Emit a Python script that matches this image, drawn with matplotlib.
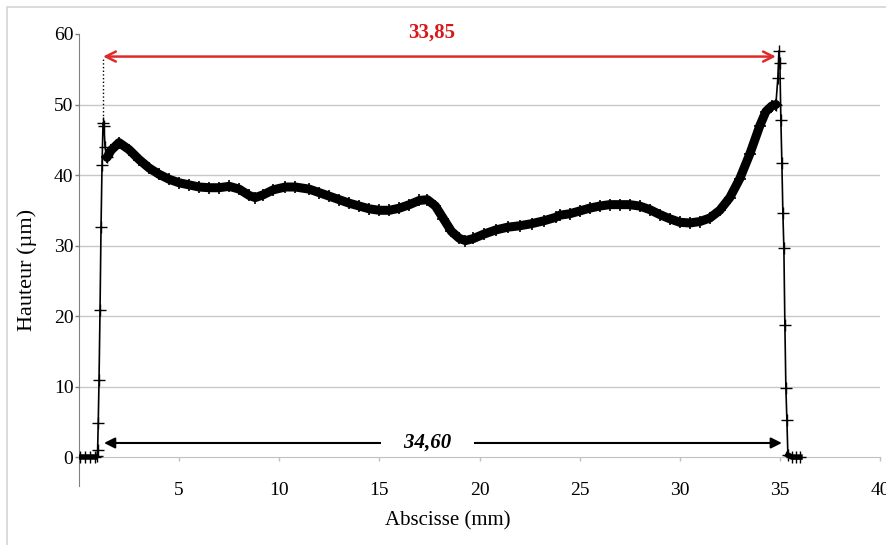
import matplotlib
matplotlib.use("Agg")
from matplotlib import pyplot as plt
from matplotlib.patches import Rectangle

plt.rcParams['font.family'] = ['Liberation Serif', 'DejaVu Serif']

# profile (abscisse mm, hauteur um)
x_left = [0.05, 0.3, 0.55, 0.8, 0.9, 0.93, 0.96, 1.0, 1.05, 1.1, 1.15, 1.2, 1.25, 1.3, 1.4]
y_left = [0.0, 0.0, 0.0, 0.0, 0.2, 1.0, 4.8, 10.9, 20.8, 32.6, 41.4, 47.4, 47.0, 44.0, 42.5]

x_prof = [1.4, 1.6, 2.0, 2.5, 3.0, 3.5, 4.0, 4.5, 5.0, 5.5, 6.0, 6.5, 7.0, 7.5, 8.0,
          8.5, 8.8, 9.2, 9.7, 10.3, 10.8, 11.5, 12.0, 12.5, 13.0, 13.5, 14.0, 14.5,
          15.0, 15.5, 16.0, 16.5, 17.0, 17.4, 17.8, 18.2, 18.6, 19.0, 19.3, 19.7,
          20.2, 20.8, 21.4, 22.0, 22.6, 23.2, 23.8, 24.0, 24.5, 25.0, 25.5, 26.0,
          26.5, 27.0, 27.5, 28.0, 28.5, 29.0, 29.5, 30.0, 30.5, 31.0, 31.5, 32.0,
          32.5, 33.0, 33.5, 34.0, 34.3, 34.6, 34.8]
y_prof = [42.5, 43.5, 44.6, 43.6, 42.2, 41.0, 40.1, 39.4, 38.9, 38.6, 38.3, 38.2, 38.2, 38.4, 38.0,
          37.1, 36.8, 37.2, 37.9, 38.3, 38.3, 38.0, 37.5, 37.0, 36.5, 36.0, 35.6, 35.2,
          35.0, 35.0, 35.3, 35.8, 36.4, 36.5, 35.6, 33.8, 32.0, 31.0, 30.7, 31.0,
          31.6, 32.2, 32.6, 32.8, 33.1, 33.5, 34.0, 34.3, 34.5, 34.9, 35.3, 35.6,
          35.8, 35.8, 35.8, 35.6, 35.1, 34.4, 33.8, 33.3, 33.2, 33.4, 33.9, 35.0,
          36.8, 39.5, 43.0, 47.0, 49.0, 49.8, 50.0]

x_right = [34.8, 34.9, 34.95, 35.0, 35.05, 35.1, 35.15, 35.2, 35.25, 35.3, 35.35, 35.4,
           35.6, 35.8, 36.0]
y_right = [50.0, 53.8, 57.6, 55.9, 47.8, 41.7, 34.6, 29.6, 18.7, 9.8, 5.3, 0.3,
           0.0, 0.0, 0.0]

yticks = [0, 10, 20, 30, 40, 50, 60]
xticks = [5, 10, 15, 20, 25, 30, 35, 40]

# mesures
x_start_red, x_end_red, y_red = 1.2, 34.8, 56.8
x_start_blk, x_end_blk, y_blk = 1.25, 35.1, 2.0
label_red = "33,85"
label_blk = "34,60"

fig = plt.figure(figsize=(8.86, 5.45), dpi=100)
ax = fig.add_axes([79/886, 1-486/545, (880-79)/886, (486-34)/545])

# chart border
fig.patches.append(Rectangle((7/886, -0.1), 1.1, 1-7/545+0.1, transform=fig.transFigure,
                             fill=False, edgecolor="#d4d4d4", lw=1.2))

for gy in yticks[1:-1]:
    ax.axhline(gy, color="#c8c8c8", lw=1, zorder=0)

# the profile: thick part + sparse edges with "+" markers
ax.plot(x_prof, y_prof, color="black", lw=6.5, solid_capstyle="round", zorder=3)
ax.plot(x_prof, y_prof, color="black", lw=1, marker="+", ms=9, mew=1.2, zorder=3)
ax.plot(x_left, y_left, color="black", lw=1.2, marker="+", ms=8, mew=1.0, zorder=3)
ax.plot(x_right, y_right, color="black", lw=1.2, marker="+", ms=8, mew=1.0, zorder=3)
ax.plot(x_left[:4], y_left[:4], color="black", lw=4, zorder=3)
ax.plot(x_right[-4:], y_right[-4:], color="black", lw=4, zorder=3)

# dotted marker up to the red arrow
ax.plot([x_start_red, x_start_red], [y_left[11], y_red], color="black", lw=1, ls=":", zorder=2)

ax.annotate("", xy=(x_end_red, y_red), xytext=(x_start_red, y_red),
            arrowprops=dict(arrowstyle="<->", color="#e02a2a", lw=1.8,
                            mutation_scale=18, shrinkA=0, shrinkB=0))
ax.text(17.6, 60.2, label_red, color="#d81818", fontsize=15, fontweight="bold",
        ha="center", va="center", clip_on=False)

ax.annotate("", xy=(x_end_blk, y_blk), xytext=(x_start_blk, y_blk),
            arrowprops=dict(arrowstyle="<|-|>", color="black", lw=1.5,
                            mutation_scale=16, shrinkA=0, shrinkB=0))
ax.text(17.4, y_blk, "    " + label_blk + "    ", color="black", fontsize=15,
        fontweight="bold", fontstyle="italic", ha="center", va="center", zorder=4,
        bbox=dict(facecolor="white", edgecolor="none", pad=1))

ax.set_xlim(0, 40)
ax.set_ylim(-4.1, 60)
ax.set_yticks(yticks)
ax.set_xticks(xticks)
ax.set_xticklabels([str(t) for t in xticks])

for s in ["top", "right"]:
    ax.spines[s].set_visible(False)
ax.spines["left"].set_color("#808080")
ax.spines["bottom"].set_position(("data", 0))
ax.spines["bottom"].set_color("#c0c0c0")

ax.tick_params(axis="y", direction="out", length=3, width=1, color="#808080",
               labelsize=14, pad=1)
ax.tick_params(axis="x", direction="out", length=3, width=1, color="#c0c0c0",
               labelsize=14, pad=15)

fig.text(448/886, 1-521/545, "Abscisse (mm)", fontsize=15, ha="center", va="center")
fig.text(27/886, 1-270/545, "Hauteur (µm)", fontsize=16, ha="center", va="center",
         rotation=90)

plt.savefig("out.png", dpi=100)
